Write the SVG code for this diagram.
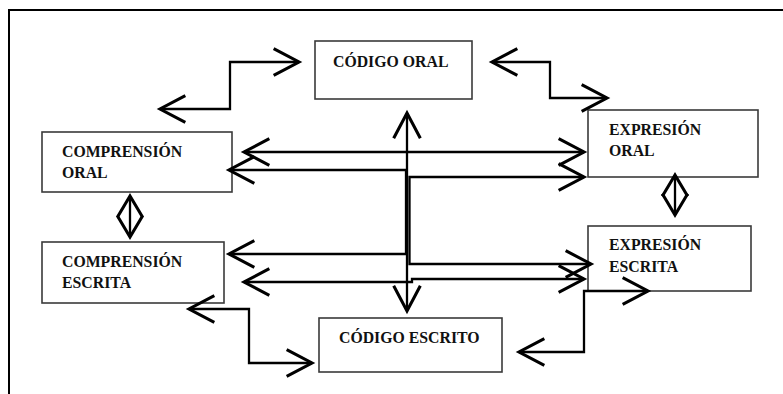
<svg xmlns="http://www.w3.org/2000/svg" width="783" height="394" viewBox="0 0 783 394">
<style>
.box{fill:#fff;stroke:#3a3a3a;stroke-width:1.6}
.t{font-family:"Liberation Serif","Times New Roman",serif;font-weight:bold;font-size:15.8px;fill:#111}
.c{fill:none;stroke:#000;stroke-width:2.3}
.arr{marker-start:url(#ah);marker-end:url(#ah)}
.arrs{marker-start:url(#ahs);marker-end:url(#ahs)}
.frame{fill:none;stroke:#000;stroke-width:2}
</style>
<defs>
<marker id="ah" markerUnits="userSpaceOnUse" markerWidth="40" markerHeight="40" viewBox="-25 -15 30 30" refX="0" refY="0" orient="auto-start-reverse" overflow="visible">
<path d="M-19,-10 L0,0 L-19,10" fill="none" stroke="#000" stroke-width="2.3"/>
</marker>
<marker id="ahs" markerUnits="userSpaceOnUse" markerWidth="40" markerHeight="40" viewBox="-25 -15 30 30" refX="0" refY="0" orient="auto-start-reverse" overflow="visible">
<path d="M-16,-9.5 L0,0 L-16,9.5" fill="none" stroke="#000" stroke-width="2.3"/>
</marker>
</defs>
<rect width="783" height="394" fill="#fff"/>
<g id="frame">
<path class="frame" d="M8,10 H783 M9,10 V394"/>
</g>
<g id="codigo-oral">
<rect class="box" x="315" y="41" width="157" height="58"/>
<text class="t" x="333" y="67">CÓDIGO ORAL</text>
</g>
<g id="comprension-oral">
<rect class="box" x="42" y="132" width="190" height="60"/>
<text class="t" x="62" y="157">COMPRENSIÓN</text>
<text class="t" x="62" y="178">ORAL</text>
</g>
<g id="comprension-escrita">
<rect class="box" x="42" y="242" width="182" height="61"/>
<text class="t" x="62" y="267">COMPRENSIÓN</text>
<text class="t" x="62" y="288">ESCRITA</text>
</g>
<g id="expresion-oral">
<rect class="box" x="588" y="110" width="170" height="67"/>
<text class="t" x="609" y="135">EXPRESIÓN</text>
<text class="t" x="609" y="156">ORAL</text>
</g>
<g id="expresion-escrita">
<rect class="box" x="588" y="226" width="163" height="65"/>
<text class="t" x="609" y="250">EXPRESIÓN</text>
<text class="t" x="609" y="272">ESCRITA</text>
</g>
<g id="codigo-escrito">
<rect class="box" x="319" y="318" width="183" height="54"/>
<text class="t" x="339" y="343">CÓDIGO ESCRITO</text>
</g>
<g id="connectors">
<path class="c arr" d="M160,109 H230 V62 H299"/>
<path class="c arr" d="M492,62 H550 V98 H607"/>
<path class="c arr" d="M189,309 H249 V363 H312"/>
<path class="c arr" d="M519,352 H584 V291 H648"/>
<path class="c arr" d="M407,113 V311"/>
<path class="c arr" d="M244,152 H584"/>
<path class="c arr" d="M229,170 H406 V254 H229"/>
<path class="c arr" d="M584,177 H409.5 V264 H591"/>
<path class="c arr" d="M244,282 H412 V279 H584"/>
<path class="c arrs" d="M130,196 V237"/>
<path class="c arrs" d="M675,175 V215"/>
</g>
</svg>
